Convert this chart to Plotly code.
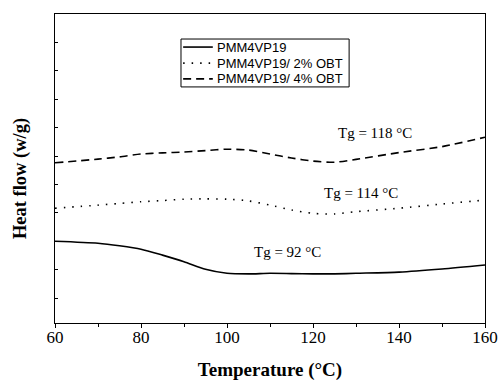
import plotly.graph_objects as go

temp = [60, 70, 75, 80, 85, 90, 95, 100, 105, 110, 115, 120, 125, 130, 140, 150, 160]

# heat flow (arbitrary units)
pmm = [2.00, 1.93, 1.84, 1.72, 1.51, 1.28, 1.01, 0.87, 0.85, 0.87, 0.86, 0.85, 0.85, 0.87, 0.91, 1.02, 1.16]
obt2 = [3.16, 3.27, 3.33, 3.39, 3.43, 3.48, 3.49, 3.48, 3.42, 3.27, 3.10, 2.98, 2.96, 3.04, 3.16, 3.31, 3.45]
obt4 = [4.76, 4.89, 4.97, 5.07, 5.11, 5.14, 5.19, 5.24, 5.21, 5.07, 4.93, 4.82, 4.78, 4.88, 5.12, 5.33, 5.66]

names = ["PMM4VP19", "PMM4VP19/ 2% OBT", "PMM4VP19/ 4% OBT"]
dashes = ["solid", "1.5px,7px", "8px,5px"]

tg_labels = ["Tg = 92 °C", "Tg = 114 °C", "Tg = 118 °C"]
tg_x = [114, 131.2, 134.4]
tg_y = [1.62, 3.70, 5.81]

fig = go.Figure()
for ys, n, d in zip([pmm, obt2, obt4], names, dashes):
    fig.add_trace(go.Scatter(x=temp, y=ys, name=n, mode="lines", showlegend=False,
                             line=dict(color="black", width=1.6, dash=d, shape="spline", smoothing=0.7)))

for t, x, y in zip(tg_labels, tg_x, tg_y):
    fig.add_annotation(x=x, y=y, text=t, showarrow=False,
                       font=dict(family="Liberation Serif", size=15, color="black"))

# boxed legend drawn in paper coordinates
fig.add_shape(type="rect", xref="paper", yref="paper", x0=0.293, x1=0.684, y0=0.764, y1=0.919,
              line=dict(color="black", width=1), fillcolor="white", layer="above")
row_y = [0.893, 0.841, 0.790]
for n, d, ry in zip(names, dashes, row_y):
    fig.add_shape(type="line", xref="paper", yref="paper", x0=0.298, x1=0.367, y0=ry, y1=ry,
                  line=dict(color="black", width=1.6, dash=d), layer="above")
    fig.add_annotation(xref="paper", yref="paper", x=0.372, y=ry, text=n, showarrow=False,
                       xanchor="left", yanchor="middle",
                       font=dict(family="Liberation Sans", size=13, color="black"))

# y-axis title (placed slightly below centre as in the reference)
fig.add_annotation(xref="paper", yref="paper", x=-0.0814, y=0.469, text="<b>Heat flow (w/g)</b>",
                   textangle=-90, showarrow=False, xanchor="center", yanchor="middle",
                   font=dict(family="Liberation Serif", size=18.5, color="black"))

fig.update_layout(
    width=499, height=381,
    margin=dict(l=55, r=14, t=14, b=58, autoexpand=False),
    plot_bgcolor="white", paper_bgcolor="white",
    showlegend=False,
    xaxis=dict(range=[60, 160], tickvals=[60, 80, 100, 120, 140, 160], automargin=False,
               ticks="outside", ticklen=4, tickcolor="black", tickwidth=1, ticklabelstandoff=-5,
               minor=dict(tickvals=[70, 90, 110, 130, 150], ticks="outside", ticklen=3, tickcolor="black"),
               showline=True, linecolor="black", linewidth=1, mirror=True,
               showgrid=False, zeroline=False,
               tickfont=dict(family="Liberation Serif", size=17, color="black"),
               title=dict(text="<b>Temperature (°C)</b>", standoff=18,
                          font=dict(family="Liberation Serif", size=19, color="black"))),
    yaxis=dict(range=[-0.88, 10.0], tickvals=list(range(0, 10)), automargin=False,
               ticks="inside", ticklen=3, tickcolor="black", showticklabels=False,
               showline=True, linecolor="black", linewidth=1, mirror=True,
               showgrid=False, zeroline=False),
)

fig.write_html("out.html")
